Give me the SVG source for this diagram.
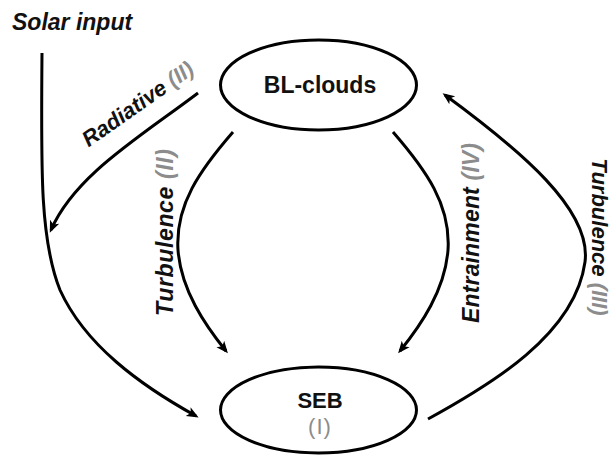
<svg xmlns="http://www.w3.org/2000/svg" width="613" height="455" viewBox="0 0 613 455">
<style>
text{font-family:"Liberation Sans",Arial,sans-serif;fill:#111}
.lbl{font-weight:bold;font-style:italic;font-size:23px}
.node{font-weight:bold;font-size:23px}
.g{fill:#8c8c8c}
.shape{fill:#fff;stroke:#000;stroke-width:3}
.conn{fill:none;stroke:#000;stroke-width:3;marker-end:url(#ah)}
</style>
<defs>
<marker id="ah" markerUnits="userSpaceOnUse" markerWidth="14" markerHeight="12" refX="9" refY="5" orient="auto" viewBox="0 0 14 10">
<path d="M0,0 L12,5 L0,10 L3,5 z" fill="#000"/>
</marker>
</defs>
<rect width="613" height="455" fill="#fff"/>
<g id="connectors">
<path class="conn" d="M42,53 C41,170 40,240 60,290 C85,345 140,385 196,416"/>
<path class="conn" d="M198,93 C140,137 75,175 51,230"/>
<path class="conn" d="M233,132 C200,170 175,205 178,250 C181,290 205,325 226,351"/>
<path class="conn" d="M393,132 C426,170 451,205 448,250 C445,290 421,325 400,351"/>
<path class="conn" d="M428,419 C490,385 575,335 585,262 C592,210 520,150 445,95"/>
</g>
<g id="solar-input">
<text class="lbl" x="12" y="30">Solar input</text>
</g>
<g id="bl-clouds">
<ellipse class="shape" cx="318.5" cy="85" rx="98" ry="45"/>
<text class="node" x="320" y="93" text-anchor="middle">BL-clouds</text>
</g>
<g id="seb">
<ellipse class="shape" cx="318.5" cy="410" rx="98" ry="43"/>
<text class="node" x="320" y="408" text-anchor="middle" style="font-size:22px">SEB</text>
<text class="g" x="320" y="434" text-anchor="middle" style="font-size:22px;letter-spacing:1px">(I)</text>
</g>
<g id="labels">
<text class="lbl" transform="translate(142,110) rotate(-35)" text-anchor="middle" style="font-size:22px">Radiative <tspan class="g">(II)</tspan></text>
<text class="lbl" transform="translate(173,232.5) rotate(-90)" text-anchor="middle" textLength="167" lengthAdjust="spacing">Turbulence <tspan class="g">(II)</tspan></text>
<text class="lbl" transform="translate(479,233) rotate(-90)" text-anchor="middle" textLength="180" lengthAdjust="spacing">Entrainment <tspan class="g">(IV)</tspan></text>
<text class="lbl" transform="translate(592,237) rotate(90)" text-anchor="middle" style="font-size:22px">Turbulence <tspan class="g">(III)</tspan></text>
</g>
</svg>
